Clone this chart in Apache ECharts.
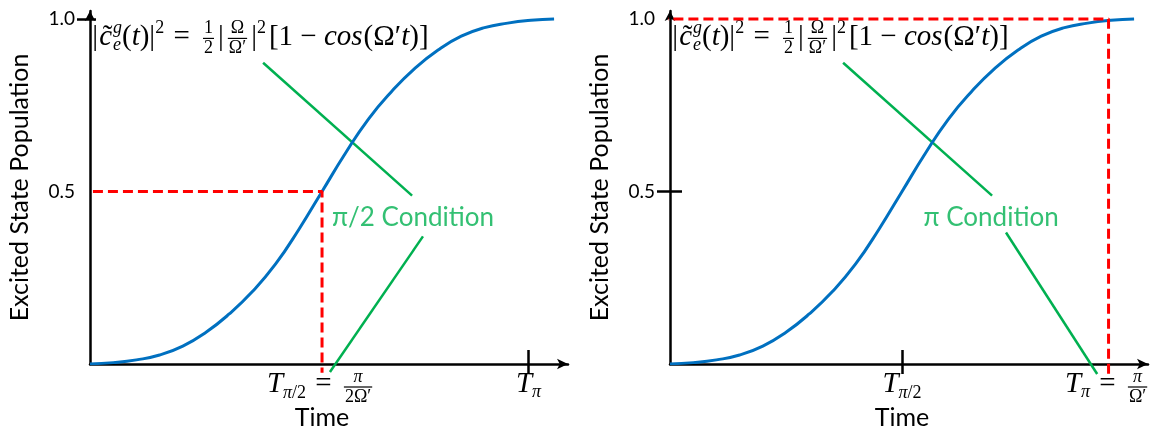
<!DOCTYPE html>
<html>
<head>
<meta charset="utf-8">
<script src="https://cdn.jsdelivr.net/npm/echarts@6/dist/echarts.min.js"></script>
<style>
  html, body { margin: 0; padding: 0; background: #fff; }
  #chart { width: 1156px; height: 435px; }
</style>
</head>
<body>
<div id="chart"></div>
<script>
// Time axis in arbitrary units: T_{π/2} sits at 10, T_π at 18.9.
const timeSteps  = [0, 1, 2, 3, 4, 5, 6, 7, 8, 9, 10, 11, 12, 13, 14, 15, 16, 17, 18, 19, 20];
const population = [0, 0.004, 0.012, 0.026, 0.052, 0.092, 0.145, 0.21, 0.29, 0.39, 0.5,
                    0.61, 0.71, 0.79, 0.857, 0.91, 0.95, 0.975, 0.988, 0.996, 1.0];

const halfPiTime = 10;     // T_{π/2}
const piTime     = 18.9;   // T_π
const xMax       = 20.6;
const yMax       = 1.0231;

const yLabelValues = [0.5, 1.0];
const leftYTicks   = [1.0];
const rightYTicks  = [0.5];
const leftXTicks   = [piTime];
const rightXTicks  = [halfPiTime];

// dashed read-off guides (start a little left of the y axis, end a little below the x axis)
const leftGuide  = [[-0.52, 0.5], [halfPiTime, 0.5], [halfPiTime, -0.025]];
const rightGuide = [[-0.5, 1.0], [piTime, 1.0], [piTime, -0.03]];

// green callout strokes
const leftCalloutUpper  = [[7.46, 0.873], [13.88, 0.488]];
const leftCalloutLower  = [[14.35, 0.37], [10.34, -0.023]];
const rightCalloutUpper = [[7.46, 0.873], [13.88, 0.488]];
const rightCalloutLower = [[14.48, 0.381], [18.41, -0.029]];

const leftConditionText  = 'π/2 Condition';
const rightConditionText = 'π Condition';
const leftConditionAt  = [13.92, 0.425];
const rightConditionAt = [13.84, 0.425];

const formulaAnchor = [0.1, 0.919];

const BLUE = '#0070c0', RED = '#ff0000', GREEN = '#00b050', INK = '#000';
const SANS = 'Lato, "Open Sans", sans-serif';
const SERIF = '"Liberation Serif", "DejaVu Serif", serif';

const chart = echarts.init(document.getElementById('chart'), null, { renderer: 'canvas' });

function xAxesFor(gi, ticks) {
  const base = { type: 'value', gridIndex: gi, min: 0, max: xMax, position: 'bottom',
                 splitLine: { show: false }, axisLabel: { show: false } };
  return [
    Object.assign({}, base, {
      axisLine: { show: true, onZero: false, symbol: ['none', 'arrow'], symbolSize: [8, 11],
                  lineStyle: { color: INK, width: 2.5 } },
      axisTick: { show: true, customValues: ticks, length: 10, lineStyle: { color: INK, width: 2.5 } },
      name: 'Time', nameLocation: 'middle', nameGap: 41,
      nameTextStyle: { fontFamily: SANS, fontSize: 25, color: INK, padding: [0, 14, 0, 0] }
    }),
    Object.assign({}, base, {
      offset: 0,
      axisLine: { show: false },
      axisTick: { show: true, inside: true, customValues: ticks, length: 14, lineStyle: { color: INK, width: 2.5 } }
    })
  ];
}

function yAxesFor(gi, ticks, innerLen) {
  const base = { type: 'value', gridIndex: gi, min: 0, max: yMax, position: 'left', splitLine: { show: false } };
  return [
    Object.assign({}, base, {
      axisLine: { show: true, onZero: false, symbol: ['none', 'arrow'], symbolSize: [8, 10],
                  lineStyle: { color: INK, width: 2.5 } },
      axisTick: { show: true, customValues: ticks, length: 13, lineStyle: { color: INK, width: 2.5 } },
      axisLabel: { show: true, customValues: yLabelValues, margin: 15, fontFamily: SANS, fontSize: 19, color: INK,
                   formatter: v => v.toFixed(1) },
      name: 'Excited State Population', nameLocation: 'middle', nameGap: 58,
      nameTextStyle: { fontFamily: SANS, fontSize: 25, color: INK }
    }),
    Object.assign({}, base, {
      offset: 0,
      axisLine: { show: false },
      axisLabel: { show: false },
      axisTick: { show: true, inside: true, customValues: ticks, length: innerLen, lineStyle: { color: INK, width: 2.5 } }
    })
  ];
}

function curveSeries(xi, yi) {
  return { type: 'line', xAxisIndex: xi, yAxisIndex: yi, smooth: true, showSymbol: false, silent: true,
           data: timeSteps.map((t, i) => [t, population[i]]),
           lineStyle: { color: BLUE, width: 3 }, z: 3 };
}
function guideSeries(xi, yi, pts) {
  return { type: 'line', xAxisIndex: xi, yAxisIndex: yi, symbol: 'none', silent: true, clip: false,
           data: pts, lineStyle: { color: RED, width: 3, type: [10, 5] }, z: 4 };
}
function calloutSeries(xi, yi, pts) {
  return { type: 'line', xAxisIndex: xi, yAxisIndex: yi, symbol: 'none', silent: true, clip: false,
           data: pts, lineStyle: { color: GREEN, width: 2.5 }, z: 2 };
}
function conditionSeries(xi, yi, at, text) {
  return { type: 'scatter', xAxisIndex: xi, yAxisIndex: yi, symbolSize: 1, silent: true,
           itemStyle: { color: 'rgba(0,0,0,0)' }, data: [at],
           label: { show: true, position: 'inside', formatter: text, fontFamily: SANS, fontSize: 26, color: GREEN },
           z: 5 };
}

chart.setOption({
  animation: false,
  backgroundColor: '#fff',
  grid: [
    { left: 90, top: 11, width: 478, height: 354 },
    { left: 670, top: 11, width: 478, height: 354 }
  ],
  xAxis: xAxesFor(0, leftXTicks).concat(xAxesFor(1, rightXTicks)),
  yAxis: yAxesFor(0, leftYTicks, 6).concat(yAxesFor(1, rightYTicks, 12)),
  series: [
    curveSeries(0, 0),
    guideSeries(0, 0, leftGuide),
    calloutSeries(0, 0, leftCalloutUpper),
    calloutSeries(0, 0, leftCalloutLower),
    conditionSeries(0, 0, leftConditionAt, leftConditionText),
    curveSeries(2, 2),
    guideSeries(2, 2, rightGuide),
    calloutSeries(2, 2, rightCalloutUpper),
    calloutSeries(2, 2, rightCalloutLower),
    conditionSeries(2, 2, rightConditionAt, rightConditionText)
  ]
});

// ---- small math typesetter built from graphic text pieces ----
const measureCtx = document.createElement('canvas').getContext('2d');
function fontOf(size, italic) { return (italic ? 'italic ' : '') + size + 'px ' + SERIF; }
function measure(text, font) { measureCtx.font = font; return measureCtx.measureText(text).width; }
const MID = 0.34;   // canvas "middle" line sits about this far above the baseline (in em)
const M = 29, S = 18, F = 18;

function textNode(text, font, x, baseY, size) {
  return { type: 'text', silent: true, x: x, y: baseY - MID * size,
           style: { text: text, font: font, fill: INK, align: 'left', verticalAlign: 'middle' } };
}

// Lays pieces out on baseline `base` starting at x0; returns the advance width.
function typeset(pieces, out, x0, base) {
  let x = x0, prevX = x0, prevW = 0;
  for (const p of pieces) {
    if (p.frac) {
      const f = p.at;
      const tmp = [];
      const nw = typeset(p.frac[0], tmp, 0, 0), dw = typeset(p.frac[1], tmp, 0, 0);
      const w = Math.max(nw, dw) + 4;
      x += f.pad;
      typeset(p.frac[0], out, x + (w - nw) / 2, base + f.num);
      typeset(p.frac[1], out, x + (w - dw) / 2, base + f.den);
      out.push({ type: 'line', silent: true,
                 shape: { x1: x + 1, y1: base + f.bar, x2: x + w - 1, y2: base + f.bar },
                 style: { stroke: INK, lineWidth: 1.2 } });
      x += w + f.pad;
      continue;
    }
    const font = fontOf(p.s, p.i), w = measure(p.t, font);
    let tx = x + (p.pre || 0);
    if (p.accent) tx = prevX + (prevW - w) / 2 + (p.dx || 0);
    out.push(textNode(p.t, font, tx, base + (p.dy || 0), p.s));
    if (!p.accent) { prevX = tx; prevW = w; }
    if (!p.keep && !p.accent) x += (p.pre || 0) + w + (p.gap || 0);
  }
  return x - x0;
}

function mathGroup(pieces, x, y, align) {
  const children = [];
  const w = typeset(pieces, children, 0, 0);
  const left = align === 'center' ? x - w / 2 : x;
  return { type: 'group', x: left, y: y, children: children, silent: true };
}

const inlineFrac = { num: -13, bar: -8.5, den: 7, pad: 3 };
const labelFrac  = { num: -11, bar: -7, den: 9, pad: 4 };

const formulaPieces = [
  { t: '|', s: M },
  { t: 'c', s: M, i: 1, pre: 1 },
  { t: '\u02DC', s: M, accent: true, dx: 2 },
  { t: 'g', s: S, i: 1, dy: -13, keep: true, pre: 1 },
  { t: 'e', s: S, i: 1, dy: 4, pre: 1, gap: 1 },
  { t: '(', s: M }, { t: 't', s: M, i: 1 }, { t: ')|', s: M },
  { t: '2', s: S, dy: -13, gap: 2 },
  { t: ' = ', s: M, gap: 2 },
  { frac: [[{ t: '1', s: F }], [{ t: '2', s: F }]], at: inlineFrac },
  { t: '|', s: M },
  { frac: [[{ t: 'Ω', s: F }], [{ t: 'Ω′', s: F }]], at: inlineFrac },
  { t: '|', s: M },
  { t: '2', s: S, dy: -13, gap: 3 },
  { t: '[1 − ', s: M },
  { t: 'cos', s: M, i: 1, gap: 1 },
  { t: '(Ω′', s: M },
  { t: 't', s: M, i: 1 },
  { t: ')]', s: M }
];

const tHalfEq = [
  { t: 'T', s: M, i: 1 }, { t: 'π', s: S, i: 1, dy: 5 }, { t: '/2', s: S, dy: 5, gap: 2 },
  { t: ' = ', s: M },
  { frac: [[{ t: 'π', s: F, i: 1 }], [{ t: '2Ω′', s: F }]], at: labelFrac }
];
const tHalf = [ { t: 'T', s: M, i: 1 }, { t: 'π', s: S, i: 1, dy: 5 }, { t: '/2', s: S, dy: 5 } ];
const tFull = [ { t: 'T', s: M, i: 1 }, { t: 'π', s: S, i: 1, dy: 4 } ];
const tFullEq = [
  { t: 'T', s: M, i: 1 }, { t: 'π', s: S, i: 1, dy: 4, gap: 2 },
  { t: ' = ', s: M },
  { frac: [[{ t: 'π', s: F, i: 1 }], [{ t: 'Ω′', s: F }]], at: labelFrac }
];

const LABEL_DROP = 30;  // baseline of time-axis labels below the axis
function px(seriesIndex, pt) { return chart.convertToPixel({ seriesIndex: seriesIndex }, pt); }

const graphics = [];
[0, 5].forEach(si => {
  const p = px(si, formulaAnchor);
  graphics.push(mathGroup(formulaPieces, p[0], p[1], 'left'));
});
const lh = px(0, [halfPiTime, 0]), lf = px(0, [piTime, 0]);
const rh = px(5, [halfPiTime, 0]), rf = px(5, [piTime, 0]);
graphics.push(mathGroup(tHalfEq, lh[0], lh[1] + LABEL_DROP, 'center'));
graphics.push(mathGroup(tFull,   lf[0], lf[1] + LABEL_DROP, 'center'));
graphics.push(mathGroup(tHalf,   rh[0], rh[1] + LABEL_DROP, 'center'));
graphics.push(mathGroup(tFullEq, rf[0], rf[1] + LABEL_DROP, 'center'));

chart.setOption({ graphic: graphics });
</script>
</body>
</html>
